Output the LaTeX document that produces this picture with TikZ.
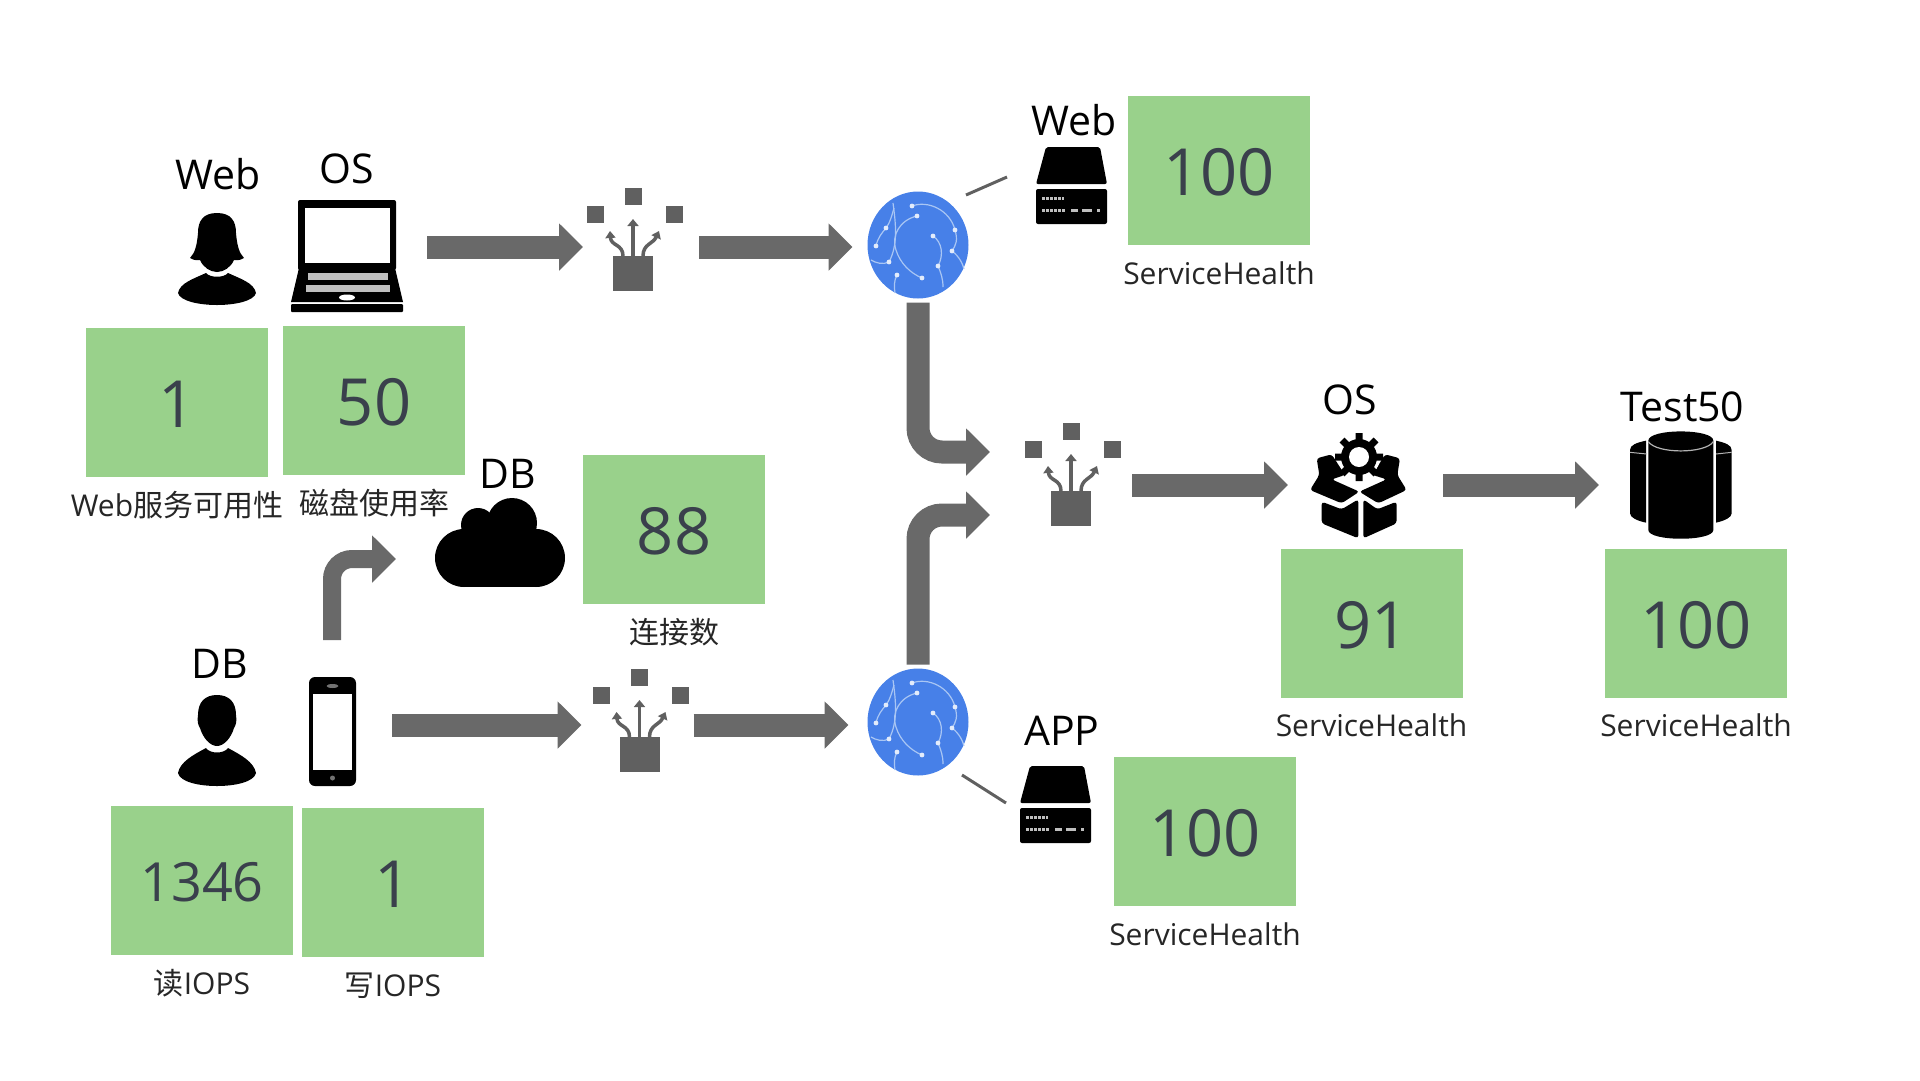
\documentclass[tikz,border=0pt]{standalone}
\usepackage{fontspec}
\setmainfont{Open Sans}
\newfontfamily\cjk{Noto Sans CJK SC}
\usetikzlibrary{positioning,arrows.meta,shapes.geometric}
\newlength{\tile}
\setlength{\tile}{182pt}
\definecolor{tilegreen}{HTML}{99D18B}
\definecolor{tileink}{HTML}{3A404C}
\definecolor{flowgrey}{HTML}{696969}
\definecolor{fibregrey}{HTML}{606060}
\definecolor{globeblue}{HTML}{4780E8}
\definecolor{veinblue}{HTML}{A9C6F4}
\tikzset{
    tile/.style={fill=tilegreen, text=tileink, minimum width=\tile, minimum height=149pt, inner sep=0pt, text height=50pt, text depth=0pt, font=\fontsize{65}{65}\selectfont},
    caption/.style={below=17pt of #1, inner sep=0pt, text height=22pt, text depth=6pt, text=black!85, font=\fontsize{30}{30}\selectfont},
    tag/.style={inner sep=0pt, font=\fontsize{41}{41}\selectfont},
    hub/.style={inner sep=0pt, outer sep=0pt, minimum height=40pt},
    globe/.style={ellipse, fill=globeblue, inner sep=0pt, outer sep=0pt, minimum width=101pt, minimum height=107pt},
    flow/.style={draw=flowgrey, line width=23pt, -{Triangle[length=24pt,width=46pt]}},
    link/.style={draw=fibregrey, line width=3pt},
    % icons, each drawn from its own corner
    fibre/.pic={
        \fill[fibregrey] (-8.5,-8.5) rectangle (8.5,8.5);
        \fill[fibregrey] (-46.5,9.5) rectangle (-29.5,26.5);
        \fill[fibregrey] (32.5,9.5) rectangle (49.5,26.5);
        \fill[fibregrey] (-20,60) rectangle (20,95);
        \draw[fibregrey, line width=3.5pt, -{Triangle[length=7pt,width=11pt]}] (0,60) -- (0,23);
        \draw[fibregrey, line width=3.5pt, -{Triangle[length=7pt,width=10pt]}] (-10,60) .. controls (-10,48) and (-22,50) .. (-23,35);
        \draw[fibregrey, line width=3.5pt, -{Triangle[length=7pt,width=10pt]}] (10,60) .. controls (10,48) and (20,48) .. (26,35);
    },
    veins/.pic={
        \draw[veinblue, line width=1.2pt] (-6,-39) .. controls (10,-45) and (32,-35) .. (37,-15) .. controls (40,-5) and (38,0) .. (34,6) .. controls (42,12) and (45,20) .. (46,24);
        \draw[veinblue, line width=1.2pt] (-1,-29) .. controls (-18,-25) and (-27,-10) .. (-22,5) .. controls (-18,18) and (-8,28) .. (4,33);
        \draw[veinblue, line width=1.2pt] (15,-9) .. controls (24,-3) and (26,10) .. (20,21) .. controls (23,28) and (25,34) .. (25,42);
        \draw[veinblue, line width=1.2pt] (-42,1) .. controls (-40,-8) and (-36,-12) .. (-32,-17) .. controls (-28,-22) and (-26,-30) .. (-24,-37);
        \draw[veinblue, line width=1.2pt] (-25,-42) .. controls (-22,-20) and (-20,0) .. (-29,17) .. controls (-35,20) and (-42,18) .. (-47,15);
        \draw[veinblue, line width=1.2pt] (-21,30) .. controls (-24,35) and (-24,42) .. (-23,48);
        \fill[white!85!globeblue] (-6,-39) circle[radius=2.4pt] (-1,-29) circle[radius=2.4pt] (-32,-17) circle[radius=2.4pt] (-42,1) circle[radius=2.4pt] (-29,17) circle[radius=2.4pt] (4,33) circle[radius=2.4pt] (20,21) circle[radius=2.4pt] (34,6) circle[radius=2.4pt] (37,-15) circle[radius=2.4pt] (15,-9) circle[radius=2.4pt] (-21,30) circle[radius=2.4pt];
    },
    server/.pic={
        \fill[black, rounded corners=2pt] (10,0) -- (64,0) -- (71,37) -- (0,37) -- cycle;
        \fill[black, rounded corners=2pt] (0,42) rectangle (71,77);
        \draw[black!25, line width=3pt, dash pattern=on 3pt off 1pt] (6,51) -- (28,51);
        \draw[black!25, line width=3pt, dash pattern=on 3pt off 1pt] (6,63) -- (30,63);
        \draw[black!25, line width=3pt] (35,63) -- (42,63) (46,63) -- (56,63) (61,63) -- (64,63);
    },
    woman/.pic={
        \fill[black] (0,0) .. controls (14,0) and (19,8) .. (19,20) .. controls (20,32) and (22,40) .. (27,45) .. controls (22,48) and (19,47) .. (17,47) .. controls (14,54) and (7,59) .. (0,59) .. controls (-7,59) and (-14,54) .. (-17,47) .. controls (-19,47) and (-22,48) .. (-27,45) .. controls (-22,40) and (-20,32) .. (-19,20) .. controls (-19,8) and (-14,0) .. (0,0) -- cycle;
        \fill[black] (-39,80) .. controls (-37,70) and (-24,66) .. (-11,60) .. controls (-7,65) and (7,65) .. (11,60) .. controls (24,66) and (37,70) .. (39,80) .. controls (37,88) and (18,92) .. (0,92) .. controls (-18,92) and (-37,88) .. (-39,80) -- cycle;
    },
    man/.pic={
        \fill[black] (0,0) .. controls (12,0) and (19,7) .. (19,20) .. controls (20,26) and (19,30) .. (17,33) .. controls (14,43) and (7,51) .. (0,51) .. controls (-7,51) and (-14,43) .. (-17,33) .. controls (-19,30) and (-20,26) .. (-19,20) .. controls (-19,7) and (-12,0) .. (0,0) -- cycle;
        \fill[black] (-39,78) .. controls (-37,67) and (-24,60) .. (-11,53) .. controls (-7,59) and (7,59) .. (11,53) .. controls (24,60) and (37,67) .. (39,78) .. controls (37,87) and (18,91) .. (0,91) .. controls (-18,91) and (-37,87) .. (-39,78) -- cycle;
    },
    laptop/.pic={
        \fill[black, rounded corners=2pt] (0,0) rectangle (98,70);
        \fill[white] (7,8) rectangle (92,63);
        \fill[black] (1,68) -- (97,68) -- (105,102) -- (-7,102) -- cycle;
        \fill[black!25] (10,73) rectangle (90,80);
        \fill[black!25] (8,85) rectangle (92,92);
        \fill[white] (49,97.5) ellipse[x radius=8pt, y radius=3pt];
        \fill[black, rounded corners=1pt] (-7,104) rectangle (105,112);
    },
    handset/.pic={
        \fill[black, rounded corners=6pt] (0,0) rectangle (47,109);
        \fill[white] (4,17) rectangle (43,93);
        \fill[black!55] (23.5,9) ellipse[x radius=6pt, y radius=2pt];
        \fill[black!55] (23.5,101) circle[radius=2.5pt];
    },
    cloudy/.pic={
        \fill[black] (-36,0) circle[radius=29pt];
        \fill[black] (36,0) circle[radius=29pt];
        \fill[black] (-36,-29) rectangle (36,29);
        \fill[black] (12,-35) circle[radius=25pt];
        \fill[black] (-22,-33) circle[radius=17pt];
    },
    % gear and open box
    parcel/.pic={
        \begin{scope}[scale=0.3333]
            \fill[black, rounded corners=3pt] (60,210) -- (88,165) -- (80,115) -- (125,103) -- (165,165) -- (125,178) -- (208,215) -- (155,250) -- cycle;
            \fill[black, rounded corners=3pt] (350,210) -- (322,165) -- (330,115) -- (285,103) -- (248,165) -- (290,178) -- (208,215) -- (265,250) -- cycle;
            \fill[black, rounded corners=3pt] (95,245) -- (155,268) -- (205,238) -- (205,355) -- (95,310) -- cycle;
            \fill[black, rounded corners=3pt] (320,245) -- (262,268) -- (220,238) -- (220,355) -- (320,310) -- cycle;
        \end{scope}
        \fill[white] (69,37) circle[radius=21pt];
        \fill[black] (69,37) circle[radius=18pt];
        \draw[black, line width=7pt] (69,13) -- (69,61) (45,37) -- (93,37) (52,20) -- (86,54) (52,54) -- (86,20);
        \fill[white] (69,37) circle[radius=10pt];
    },
    drum/.pic={
        \begin{scope}[scale=0.3333]
            \fill[black] (78,62) .. controls (50,68) and (30,75) .. (30,90) -- (30,280) .. controls (30,292) and (50,302) .. (78,308) -- cycle;
            \fill[black] (288,62) .. controls (315,68) and (335,75) .. (335,90) -- (335,280) .. controls (335,292) and (315,302) .. (288,308) -- cycle;
            \fill[black] (85,62) .. controls (85,25) and (280,25) .. (280,62) -- (280,330) .. controls (280,365) and (85,365) .. (85,330) -- cycle;
            \draw[black!30, line width=1.2pt] (85,65) .. controls (110,102) and (255,102) .. (280,65);
            \draw[black!30, line width=1pt] (30,97) -- (80,102) (288,102) -- (335,97);
        \end{scope}
    },
}

\begin{document}
\begin{tikzpicture}[x=1pt, y=-1pt]
    \useasboundingbox (0,0) rectangle (1920,1080);

    % Tiles
    \node[tile] (webuse) at (177,402.5) {1};
    \node[tile] (diskuse) at (374,400.5) {50};
    \node[tile] (conns) at (674,529.5) {88};
    \node[tile, text height=41pt, font=\fontsize{54}{54}\selectfont] (readio) at (202,880.5) {1346};
    \node[tile] (writeio) at (393,882.5) {1};
    \node[tile] (webhealth) at (1219,170.5) {100};
    \node[tile] (apphealth) at (1205,831.5) {100};
    \node[tile] (oshealth) at (1371.5,623) {91};
    \node[tile] (testhealth) at (1696,623) {100};

    % Captions
    \node[caption=webuse] (webusecap) {Web{\cjk 服务可用性}};
    \node[caption=diskuse] (diskusecap) {{\cjk 磁盘使用率}};
    \node[caption=conns] (connscap) {{\cjk 连接数}};
    \node[caption=readio] (readiocap) {{\cjk 读}IOPS};
    \node[caption=writeio] (writeiocap) {{\cjk 写}IOPS};
    \node[caption=webhealth] (webhealthcap) {ServiceHealth};
    \node[caption=apphealth] (apphealthcap) {ServiceHealth};
    \node[caption=oshealth] (oshealthcap) {ServiceHealth};
    \node[caption=testhealth] (testhealthcap) {ServiceHealth};

    % Tags
    \node[tag] (webtag) at (218,174) {Web};
    \node[tag] (ostag) at (347,169) {OS};
    \node[tag] (dbtag) at (508,474) {DB};
    \node[tag] (dbtag2) at (220,664) {DB};
    \node[tag] (webtag2) at (1074,120) {Web};
    \node[tag] (apptag) at (1062,731) {APP};
    \node[tag] (ostag2) at (1349.5,400) {OS};
    \node[tag] (testtag) at (1682.5,407) {Test50};

    % Hubs
    \node[hub, minimum width=160pt] (laptopn) at (347,247) {};
    \node[hub, minimum width=116pt] (fibre1) at (641,247) {};
    \node[hub, minimum width=120pt, minimum height=170pt] (phonen) at (332,725) {};
    \node[hub, minimum width=170pt] (cloudn) at (481,559) {};
    \node[hub, minimum width=112pt] (fibre2) at (637.5,725) {};
    \node[hub, minimum width=142pt] (fibre3) at (1061,485) {};
    \node[hub, minimum width=155pt] (parceln) at (1365.5,485) {};
    \node[hub, minimum width=168pt] (drumn) at (1683,485) {};
    \node[hub, minimum width=71pt, minimum height=77pt] (websrv) at (1071.5,185) {};
    \node[hub, minimum width=71pt, minimum height=77pt] (appsrv) at (1055.5,804.5) {};
    \node[globe] (globe1) at (918,245) {};
    \node[globe] (globe2) at (918,722) {};

    % Icons
    \pic at (217,213) {woman};
    \pic at (298,200) {laptop};
    \pic at (217,695) {man};
    \pic at (309,677) {handset};
    \pic at (500,558) {cloudy};
    \pic at (633,196) {fibre};
    \pic at (639.5,677) {fibre};
    \pic at (1071,431) {fibre};
    \pic at (918,245) {veins};
    \pic at (918,722) {veins};
    \pic at (1036,147) {server};
    \pic at (1020,766) {server};
    \pic at (1290,420) {parcel};
    \pic at (1620,420) {drum};

    % Straight flows
    \draw[flow] (laptopn.east) -- (fibre1.west);
    \draw[flow, shorten >=15pt] (fibre1.east) -- (fibre1.east -| globe1.west);
    \draw[flow] (phonen.east |- fibre2.west) -- (fibre2.west);
    \draw[flow, shorten >=19pt] (fibre2.east) -- (fibre2.east -| globe2.west);
    \draw[flow] (fibre3.east) -- (parceln.west);
    \draw[flow] (parceln.east) -- (drumn.west);

    % Bent flows
    \draw[flow, rounded corners=24pt, shorten <=4pt] (globe1.south) |- ([yshift=33pt]fibre3.west);
    \draw[flow, rounded corners=24pt, shorten <=4pt] (globe2.north) |- ([yshift=-30pt]fibre3.west);
    \draw[flow, line width=18pt, rounded corners=20pt] (phonen.north) |- (cloudn.west);

    % Server links
    \draw[link] ([shift={(48,-50)}]globe1.center) -- ([shift={(-64.5,-8)}]websrv.center);
    \draw[link] ([shift={(44,53)}]globe2.center) -- ([shift={(-49.5,-1.5)}]appsrv.center);
\end{tikzpicture}
\end{document}
